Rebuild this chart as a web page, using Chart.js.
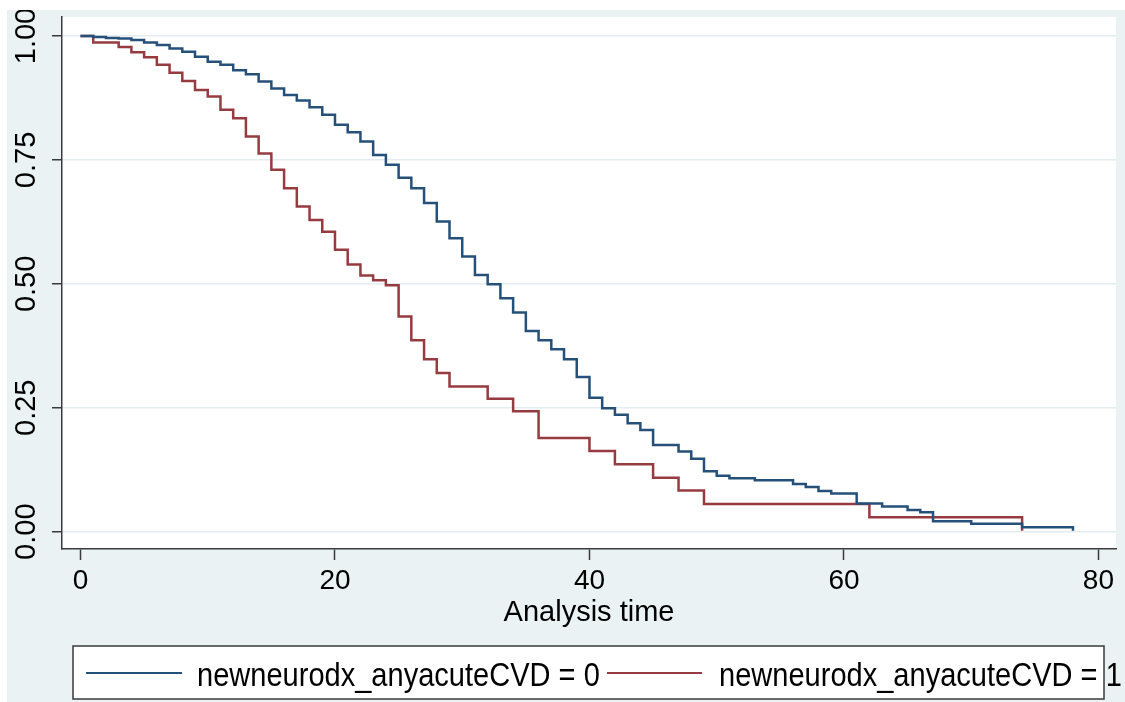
<!DOCTYPE html>
<html>
<head>
<meta charset="utf-8">
<title>Kaplan-Meier newneurodx_anyacuteCVD</title>
<script src="https://cdn.jsdelivr.net/npm/chart.js@4"></script>
<style>
  html, body { margin: 0; padding: 0; background: #fff; }
  canvas { display: block; }
</style>
</head>
<body>
<canvas id="km" width="1125" height="702"></canvas>
<script>
// survival estimates (value after the step at each time)
const blueTime = [0, 1, 2, 3, 4, 5, 6, 7, 8, 9, 10, 11, 12, 13, 14, 15, 16, 17, 18, 19, 20, 21, 22, 23, 24, 25, 26, 27, 28, 29, 30, 31, 32, 33, 34, 35, 36, 37, 38, 39, 40, 41, 42, 43, 44, 45, 47, 48, 49, 50, 51, 53, 56, 57, 58, 59, 61, 63, 65, 66, 67, 70, 74, 78];
const blueSurv = [1, 0.998, 0.996, 0.995, 0.992, 0.987, 0.982, 0.975, 0.968, 0.958, 0.948, 0.942, 0.931, 0.923, 0.908, 0.894, 0.881, 0.870, 0.856, 0.841, 0.821, 0.806, 0.787, 0.760, 0.740, 0.714, 0.693, 0.663, 0.626, 0.592, 0.555, 0.518, 0.499, 0.471, 0.442, 0.405, 0.386, 0.368, 0.348, 0.312, 0.270, 0.249, 0.236, 0.219, 0.205, 0.175, 0.162, 0.147, 0.122, 0.113, 0.108, 0.104, 0.096, 0.090, 0.082, 0.077, 0.057, 0.051, 0.044, 0.039, 0.021, 0.016, 0.009, 0.002];

const redTime = [0, 1, 3, 4, 5, 6, 7, 8, 9, 10, 11, 12, 13, 14, 15, 16, 17, 18, 19, 20, 21, 22, 23, 24, 25, 26, 27, 28, 29, 32, 34, 36, 40, 42, 45, 47, 49, 62, 74];
const redSurv = [1, 0.987, 0.978, 0.967, 0.957, 0.942, 0.926, 0.909, 0.891, 0.878, 0.851, 0.834, 0.797, 0.763, 0.730, 0.693, 0.656, 0.629, 0.605, 0.569, 0.539, 0.517, 0.507, 0.497, 0.434, 0.386, 0.348, 0.320, 0.293, 0.268, 0.243, 0.189, 0.163, 0.136, 0.109, 0.083, 0.056, 0.029, 0.002];

const seriesNames = ["newneurodx_anyacuteCVD = 0", "newneurodx_anyacuteCVD = 1"];
const xTicks = [0, 20, 40, 60, 80];
const yTicks = [0, 0.25, 0.5, 0.75, 1];
const xTitle = "Analysis time";

const FONT = '"Liberation Sans", Arial, Helvetica, sans-serif';
const NAVY = '#24507a';
const MAROON = '#963b40';
const AXIS = '#3a3a3a';

function pts(ts, vs) {
    return ts.map((t, i) => ({ x: t, y: vs[i] }));
}

const stataLook = {
    id: 'stataLook',
    beforeDraw(chart) {
        const { ctx, chartArea: a } = chart;
        ctx.save();
        ctx.fillStyle = '#eaf2f3';
        ctx.fillRect(0, 0, chart.width, chart.height);
        ctx.fillStyle = '#ffffff';
        ctx.fillRect(a.left, a.top, a.right - a.left, a.bottom - a.top);
        ctx.restore();
    },
    afterDraw(chart) {
        const ctx = chart.ctx;
        ctx.save();
        // legend box (text runs past the right border like in the original)
        ctx.fillStyle = '#ffffff';
        ctx.fillRect(73, 646, 1031, 53);
        ctx.strokeStyle = AXIS;
        ctx.lineWidth = 1.5;
        ctx.strokeRect(73, 646, 1031, 53);
        const slots = [[86, 182, 197], [607, 702, 719]];
        chart.data.datasets.forEach((ds, i) => {
            const [x0, x1, tx] = slots[i];
            ctx.strokeStyle = ds.borderColor;
            ctx.lineWidth = 2.2;
            ctx.beginPath();
            ctx.moveTo(x0, 673);
            ctx.lineTo(x1, 673);
            ctx.stroke();
            ctx.save();
            ctx.translate(tx, 686);
            ctx.scale(0.88, 1);
            ctx.fillStyle = '#000';
            ctx.font = '33px ' + FONT;
            ctx.textBaseline = 'alphabetic';
            ctx.fillText(ds.label, 0, 0);
            ctx.restore();
        });
        // cropped screenshot edges
        ctx.fillStyle = '#ffffff';
        ctx.fillRect(0, 0, chart.width, 10);
        ctx.fillRect(0, 0, 7, chart.height);
        ctx.restore();
    }
};

const ctx = document.getElementById('km').getContext('2d');
new Chart(ctx, {
    type: 'line',
    data: {
        datasets: [{
            label: seriesNames[0],
            data: pts(blueTime, blueSurv),
            borderColor: NAVY,
            borderWidth: 2.5,
            stepped: true,
            pointRadius: 0,
            fill: false
        }, {
            label: seriesNames[1],
            data: pts(redTime, redSurv),
            borderColor: MAROON,
            borderWidth: 2.5,
            stepped: true,
            pointRadius: 0,
            fill: false
        }]
    },
    options: {
        responsive: false,
        animation: false,
        devicePixelRatio: 1,
        layout: { padding: { left: 0, top: 17, right: 9, bottom: 71.6 } },
        plugins: {
            legend: { display: false },
            tooltip: { enabled: false }
        },
        scales: {
            x: {
                type: 'linear',
                min: -1.454,
                max: 81.38,
                afterBuildTicks: s => { s.ticks = xTicks.map(v => ({ value: v })); },
                afterFit: s => { s.height = 81.4; },
                grid: { drawOnChartArea: false, drawTicks: true, tickLength: 11, tickColor: AXIS, tickWidth: 1.5 },
                border: { color: AXIS, width: 1.5 },
                ticks: { padding: 4, color: '#000', font: { family: FONT, size: 28 }, maxRotation: 0 },
                title: { display: true, text: xTitle, color: '#000', font: { family: FONT, size: 29, lineHeight: 1.2 }, padding: 0 }
            },
            y: {
                type: 'linear',
                min: -0.0349,
                max: 1.0383,
                afterBuildTicks: s => { s.ticks = yTicks.map(v => ({ value: v })); },
                afterFit: s => { s.width = 62; },
                grid: { color: '#e3ecee', lineWidth: 1.5, tickLength: 10, tickColor: AXIS, tickWidth: 1.5 },
                border: { color: AXIS, width: 1.5 },
                ticks: {
                    minRotation: 90,
                    maxRotation: 90,
                    crossAlign: 'center',
                    padding: -3,
                    color: '#000',
                    font: { family: FONT, size: 29 },
                    callback: v => Number(v).toFixed(2)
                }
            }
        }
    },
    plugins: [stataLook]
});
</script>
</body>
</html>
